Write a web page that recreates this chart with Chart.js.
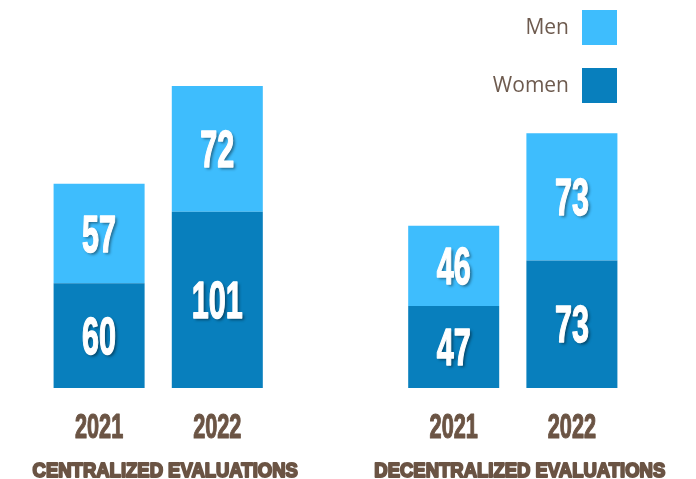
<!DOCTYPE html>
<html>
<head>
<meta charset="utf-8">
<script src="https://cdn.jsdelivr.net/npm/chart.js@4"></script>
<style>
  html, body { margin: 0; padding: 0; background: #fff; }
  #wrap { width: 696px; height: 479px; }
</style>
</head>
<body>
<div id="wrap"><canvas id="evals"></canvas></div>
<script>
// ---- data ----
var groups = ['CENTRALIZED EVALUATIONS', 'DECENTRALIZED EVALUATIONS'];
var years = ['2021', '2022'];
var women = [60, 101, 47, 73];
var men = [57, 72, 46, 73];

var brown = '#6b5444';
var menColor = '#3ebdfd';
var womenColor = '#087fbd';

// categories with an empty slot between the two groups
var labels = [];
var womenData = [];
var menData = [];
groups.forEach(function (g, gi) {
    if (gi > 0) { labels.push(''); womenData.push(null); menData.push(null); }
    years.forEach(function (y, yi) {
        labels.push(y);
        womenData.push(women[gi * years.length + yi]);
        menData.push(men[gi * years.length + yi]);
    });
});

// condensed heavy text helper (no narrow font installed)
function condensed(ctx, text, x, y, size, sx, stroke) {
    ctx.save();
    ctx.translate(x, y);
    ctx.scale(sx, 1);
    ctx.font = 'bold ' + size + 'px "Liberation Sans"';
    ctx.fillText(text, 0, 0);
    if (stroke) {
        ctx.shadowColor = 'transparent';
        ctx.strokeStyle = ctx.fillStyle;
        ctx.lineWidth = stroke;
        ctx.lineJoin = 'round';
        ctx.strokeText(text, 0, 0);
    }
    ctx.restore();
}

// values written inside each bar segment
var valueLabels = {
    id: 'valueLabels',
    afterDatasetsDraw: function (chart) {
        var ctx = chart.ctx;
        chart.data.datasets.forEach(function (ds, i) {
            var meta = chart.getDatasetMeta(i);
            meta.data.forEach(function (bar, j) {
                var v = ds.data[j];
                if (v == null) return;
                var p = bar.getProps(['x', 'y', 'base'], true);
                var cy = (p.y + p.base) / 2;
                ctx.save();
                ctx.textAlign = 'center';
                ctx.textBaseline = 'alphabetic';
                ctx.shadowColor = 'rgba(0,0,0,0.45)';
                ctx.shadowOffsetX = 2;
                ctx.shadowOffsetY = 2;
                ctx.shadowBlur = 3;
                ctx.fillStyle = '#fff';
                condensed(ctx, String(v), p.x, cy + 18, 51, 0.6, 1.5);
                ctx.restore();
            });
        });
    }
};

// year ticks (condensed), group names and legend
var extras = {
    id: 'extras',
    afterDraw: function (chart) {
        var ctx = chart.ctx;
        var xs = chart.scales.x;
        ctx.save();
        ctx.fillStyle = brown;
        ctx.textAlign = 'center';
        ctx.textBaseline = 'alphabetic';
        xs.ticks.forEach(function (t, i) {
            var lab = xs.getLabelForValue(t.value);
            if (!lab) return;
            condensed(ctx, lab, xs.getPixelForTick(i), 438, 35, 0.62, 1.2);
        });

        groups.forEach(function (g, gi) {
            var first = gi * (years.length + 1);
            var cx = (xs.getPixelForValue(first) + xs.getPixelForValue(first + years.length - 1)) / 2 + 7;
            condensed(ctx, g, cx, 477, 21, 0.88, 2);
        });

        // legend: top dataset first, text left of the box
        var items = chart.data.datasets.slice().reverse();
        ctx.font = '21px "Open Sans"';
        ctx.textAlign = 'right';
        ctx.textBaseline = 'middle';
        items.forEach(function (ds, k) {
            var top = 10 + k * 58;
            ctx.fillStyle = ds.backgroundColor;
            ctx.fillRect(582, top, 35, 35);
            ctx.fillStyle = '#6e5b4f';
            ctx.fillText(ds.label, 569, top + 18);
        });
        ctx.restore();
    }
};

var ctx = document.getElementById('evals').getContext('2d');
var chart = new Chart(ctx, {
    type: 'bar',
    data: {
        labels: labels,
        datasets: [{
            label: 'Women',
            data: womenData,
            backgroundColor: womenColor,
            barPercentage: 0.77,
            categoryPercentage: 1
        }, {
            label: 'Men',
            data: menData,
            backgroundColor: menColor,
            barPercentage: 0.77,
            categoryPercentage: 1
        }]
    },
    options: {
        responsive: true,
        maintainAspectRatio: false,
        animation: false,
        layout: { padding: { left: 40, right: 65, top: 39, bottom: 91 } },
        plugins: {
            legend: { display: false },
            tooltip: { enabled: false }
        },
        scales: {
            x: {
                stacked: true,
                grid: { display: false, drawTicks: false },
                border: { display: false },
                ticks: { display: false }
            },
            y: {
                stacked: true,
                display: false,
                min: 0,
                max: 200
            }
        }
    },
    plugins: [valueLabels, extras]
});
</script>
</body>
</html>
